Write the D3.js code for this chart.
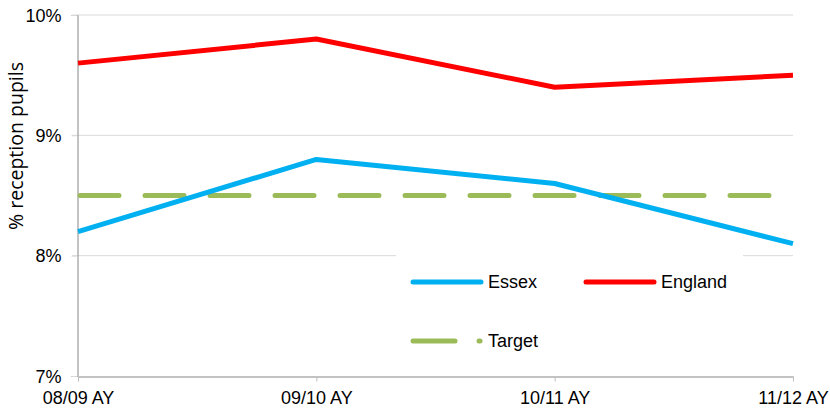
<!DOCTYPE html>
<html>
<head>
<meta charset="utf-8">
<script src="https://cdn.jsdelivr.net/npm/d3@7"></script>
<style>
  body { margin: 0; background: #fff; }
  svg text { font-family: "Liberation Sans", Arial, sans-serif; fill: #000; }
</style>
</head>
<body>
<svg id="chart"></svg>
<script>
var categories = ['08/09 AY', '09/10 AY', '10/11 AY', '11/12 AY'];
var essex = [8.2, 8.8, 8.6, 8.1];
var england = [9.6, 9.8, 9.4, 9.5];
var target = [8.5, 8.5, 8.5, 8.5];
var yTicks = [7, 8, 9, 10];

var width = 830, height = 411;
var padding = {top: 15, right: 37, bottom: 35, left: 78};

var svg = d3.select('#chart').attr('width', width).attr('height', height);

var xScale = d3.scalePoint()
    .domain(categories)
    .range([padding.left, width - padding.right]);

var yScale = d3.scaleLinear()
    .domain([7, 10])
    .range([height - padding.bottom, padding.top]);

// gridlines
svg.append('g')
    .selectAll('line')
    .data(yTicks.slice(1))
    .enter()
    .append('line')
    .attr('x1', padding.left - 6)
    .attr('x2', width - padding.right)
    .attr('y1', function(d) { return yScale(d); })
    .attr('y2', function(d) { return yScale(d); })
    .attr('stroke', '#d9d9d9')
    .attr('stroke-width', 1);

// y axis
var yAxis = d3.axisLeft(yScale)
    .tickValues(yTicks)
    .tickSize(6)
    .tickFormat(function(d) { return d + '%'; });

var gy = svg.append('g')
    .attr('transform', 'translate(' + (padding.left - 0.5) + ',0)')
    .call(yAxis);
gy.select('.domain').attr('stroke', '#868686');
gy.selectAll('.tick line').attr('stroke', '#d9d9d9');
gy.selectAll('.tick text').attr('x', -16).attr('dy', '0.35em').style('font-size', '18px');

// x axis
var xAxis = d3.axisBottom(xScale).tickSize(5).tickSizeOuter(0);
var gx = svg.append('g')
    .attr('transform', 'translate(0,' + (yScale(7) + 0.5) + ')')
    .call(xAxis);
gx.select('.domain').attr('stroke', '#868686');
gx.selectAll('.tick line').attr('stroke', '#bfbfbf');
gx.selectAll('.tick text').attr('y', 15).attr('dy', '0.71em').style('font-size', '18px');

// y title, fitted to the length seen in the reference
var ytitle = svg.append('text')
    .attr('transform', 'translate(23,146) rotate(-90)')
    .attr('text-anchor', 'middle')
    .style('font-family', '"Open Sans", sans-serif')
    .style('font-size', '18px')
    .text('% reception pupils');
var len = ytitle.node().getComputedTextLength();
ytitle.style('font-size', (18 * 168 / len) + 'px');

var line = d3.line()
    .x(function(d, i) { return xScale(categories[i]); })
    .y(function(d) { return yScale(d); });

svg.append('path')
    .attr('d', line(target))
    .attr('fill', 'none')
    .attr('stroke', '#9bbb59')
    .attr('stroke-width', 5)
    .attr('stroke-linecap', 'round')
    .attr('stroke-dasharray', '39,26')
    .attr('stroke-dashoffset', -2);

svg.append('path')
    .attr('d', line(essex))
    .attr('fill', 'none')
    .attr('stroke', '#00b0f0')
    .attr('stroke-width', 5)
    .attr('stroke-linejoin', 'round');

svg.append('path')
    .attr('d', line(england))
    .attr('fill', 'none')
    .attr('stroke', '#ff0000')
    .attr('stroke-width', 5)
    .attr('stroke-linejoin', 'round');

// legend
var legend = svg.append('g');
legend.append('rect')
    .attr('x', 396).attr('y', 240)
    .attr('width', 347).attr('height', 130)
    .attr('fill', '#fff');

var items = [
    {name: 'Essex', color: '#00b0f0', x: 411, y: 282, dash: false},
    {name: 'England', color: '#ff0000', x: 584, y: 282, dash: false},
    {name: 'Target', color: '#9bbb59', x: 411, y: 341, dash: true}
];

items.forEach(function(it) {
    if (it.dash) {
        legend.append('line')
            .attr('x1', it.x + 2).attr('x2', it.x + 44)
            .attr('y1', it.y).attr('y2', it.y)
            .attr('stroke', it.color).attr('stroke-width', 5)
            .attr('stroke-linecap', 'round');
        legend.append('line')
            .attr('x1', it.x + 68).attr('x2', it.x + 69)
            .attr('y1', it.y).attr('y2', it.y)
            .attr('stroke', it.color).attr('stroke-width', 5)
            .attr('stroke-linecap', 'round');
    } else {
        legend.append('line')
            .attr('x1', it.x + 2).attr('x2', it.x + 70)
            .attr('y1', it.y).attr('y2', it.y)
            .attr('stroke', it.color).attr('stroke-width', 5)
            .attr('stroke-linecap', 'round');
    }
    legend.append('text')
        .attr('x', it.x + 77)
        .attr('y', it.y)
        .attr('dy', '0.35em')
        .style('font-size', '18px')
        .text(it.name);
});
</script>
</body>
</html>
